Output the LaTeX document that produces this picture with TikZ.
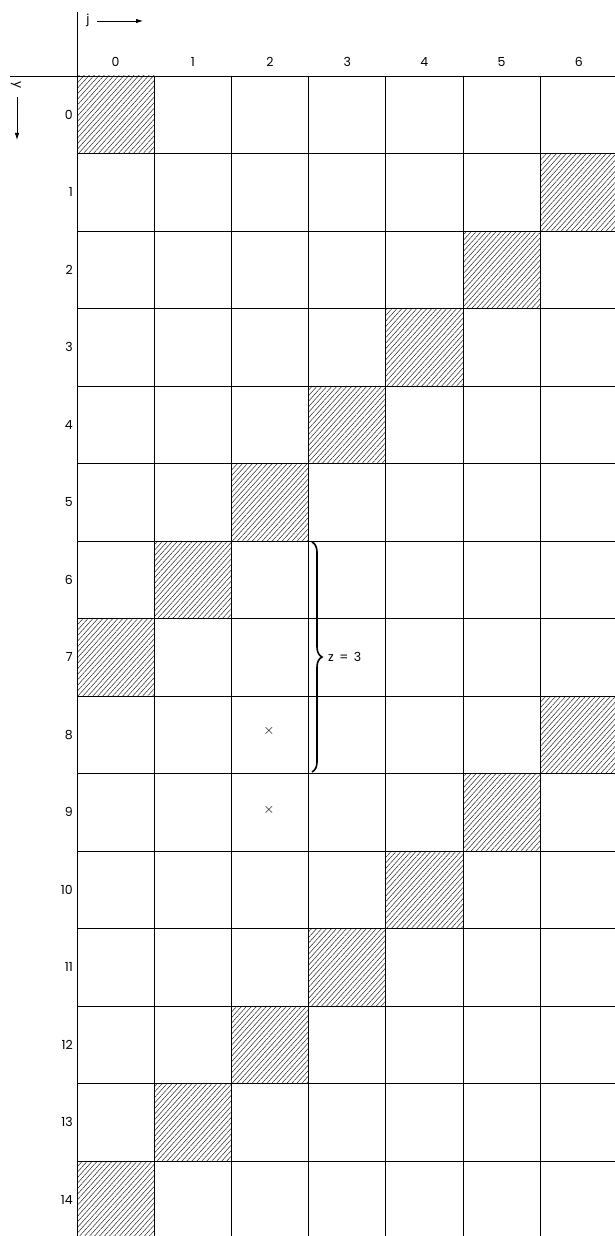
\documentclass[tikz,border=0pt]{standalone}
\usepackage{fontspec}
\setmainfont{Poppins}
\usetikzlibrary{patterns.meta,decorations.pathreplacing,arrows.meta}
\begin{document}
\begin{tikzpicture}[x=1pt,y=-1pt,
  gridline/.style={line width=0.8pt,black},
  hatchcell/.style={pattern={Lines[angle=48,distance=3.7pt,line width=0.5pt]},pattern color=black!85},
  lbl/.style={font=\fontsize{12.5}{14}\selectfont,inner sep=1pt},
  axarrow/.style={line width=0.8pt,-{Latex[length=7pt,width=4.5pt]}},
  crossmark/.style={font=\Large,inner sep=0pt}
]
\useasboundingbox (0,0) rectangle (615,1236);
\pgfmathsetmacro{\cw}{77.2}
\pgfmathsetmacro{\rh}{77.5}
% hatched cells: row/col
\foreach \r/\c in {0/0,1/6,2/5,3/4,4/3,5/2,6/1,7/0,8/6,9/5,10/4,11/3,12/2,13/1,14/0}{
  \pgfmathsetmacro{\xa}{77+\cw*\c}
  \pgfmathsetmacro{\ya}{76+\rh*\r}
  \fill[hatchcell] (\xa,\ya) rectangle ({min(\xa+\cw,615)},{min(\ya+\rh,1236)});
}
% grid
\draw[gridline] (10,76) -- (615,76);
\foreach \r in {1,...,14}{
  \draw[gridline] (77,{76+\rh*\r}) -- (615,{76+\rh*\r});
}
\draw[gridline] (77,12) -- (77,1236);
\foreach \c in {1,...,6}{
  \draw[gridline] ({77+\cw*\c},76) -- ({77+\cw*\c},1236);
}
% column headers
\foreach \c in {0,...,6}{
  \node[lbl] (col\c) at ({77+\cw*\c+\cw/2},62) {\c};
}
% row labels
\foreach \r in {0,...,14}{
  \node[lbl,anchor=east] (row\r) at (74,{76+\rh*\r+\rh/2}) {\r};
}
% axis labels
\node[lbl] (jlab) at (88,20) {j};
\coordinate (jstart) at (97,21);
\coordinate (jend) at (143,21);
\draw[axarrow] (jstart) -- (jend);
\node[lbl,rotate=-90] (ylab) at (16,85) {y};
\coordinate (ystart) at (17,97);
\coordinate (yend) at (17,140);
\draw[axarrow] (ystart) -- (yend);
% brace
\coordinate (bt) at (312,542);
\coordinate (bb) at (312,772);
\draw[line width=1.6pt,decorate,decoration={brace,amplitude=10pt}] (bt) -- (bb);
\node[lbl,anchor=west] (zlab) at (327,657) {z\, =\, 3};
% crosses
\node[crossmark] (x1) at (269,731) {$\times$};
\node[crossmark] (x2) at (269,810) {$\times$};
\end{tikzpicture}
\end{document}
